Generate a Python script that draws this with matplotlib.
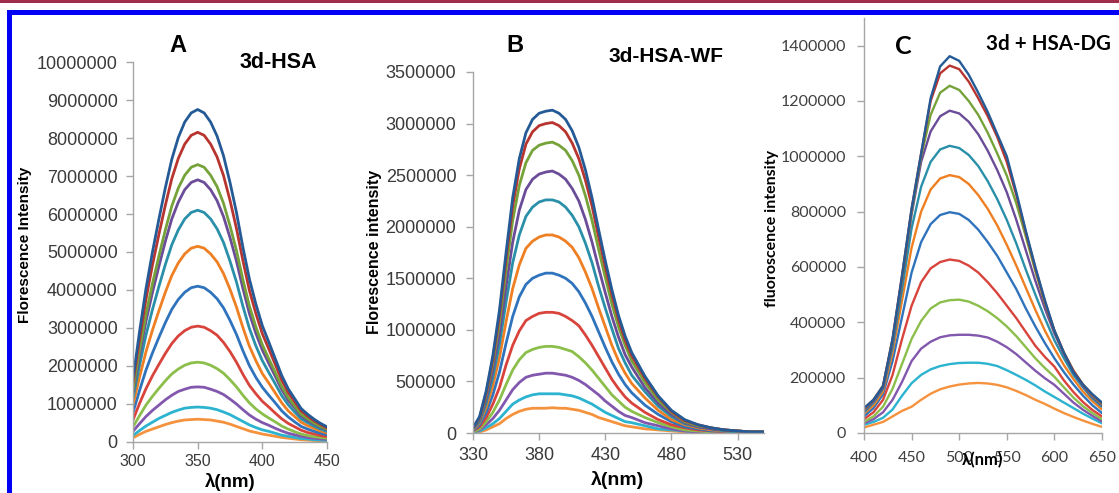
import matplotlib.pyplot as plt
import numpy as np

# emission spectra, one row per titration step (lowest first)
# panel A: 3d-HSA, intensity in units of 1e6
wl_a = [300, 305, 310, 315, 320, 325, 330, 335, 340, 345, 350, 355, 360, 365, 370, 375,
        380, 385, 390, 395, 400, 405, 410, 415, 420, 425, 430, 435, 440, 445, 450]
spec_a = [
    [0.11, 0.20, 0.28, 0.34, 0.40, 0.46, 0.51, 0.55, 0.58, 0.59, 0.60, 0.59, 0.58, 0.55, 0.52, 0.47,
     0.41, 0.35, 0.29, 0.25, 0.21, 0.18, 0.15, 0.12, 0.10, 0.08, 0.06, 0.05, 0.04, 0.03, 0.03],
    [0.17, 0.30, 0.42, 0.52, 0.62, 0.70, 0.78, 0.84, 0.89, 0.91, 0.92, 0.91, 0.89, 0.85, 0.79, 0.72,
     0.63, 0.54, 0.45, 0.38, 0.32, 0.28, 0.23, 0.18, 0.15, 0.12, 0.09, 0.08, 0.06, 0.05, 0.04],
    [0.28, 0.48, 0.67, 0.83, 0.97, 1.11, 1.23, 1.33, 1.39, 1.44, 1.45, 1.44, 1.39, 1.33, 1.25, 1.13,
     1.00, 0.85, 0.71, 0.60, 0.51, 0.44, 0.36, 0.29, 0.23, 0.19, 0.15, 0.12, 0.10, 0.08, 0.07],
    [0.40, 0.69, 0.97, 1.20, 1.41, 1.61, 1.79, 1.92, 2.02, 2.08, 2.10, 2.08, 2.02, 1.93, 1.81, 1.64,
     1.45, 1.23, 1.03, 0.87, 0.74, 0.63, 0.53, 0.42, 0.34, 0.27, 0.21, 0.17, 0.14, 0.12, 0.10],
    [0.58, 1.01, 1.40, 1.74, 2.04, 2.33, 2.59, 2.79, 2.93, 3.02, 3.05, 3.02, 2.93, 2.81, 2.62, 2.38,
     2.10, 1.78, 1.49, 1.27, 1.07, 0.92, 0.76, 0.61, 0.49, 0.40, 0.31, 0.25, 0.21, 0.17, 0.14],
    [0.78, 1.35, 1.89, 2.34, 2.75, 3.14, 3.49, 3.75, 3.94, 4.06, 4.10, 4.06, 3.94, 3.77, 3.53, 3.20,
     2.83, 2.40, 2.01, 1.70, 1.44, 1.23, 1.03, 0.82, 0.66, 0.53, 0.41, 0.34, 0.28, 0.23, 0.19],
    [0.98, 1.70, 2.37, 2.94, 3.45, 3.94, 4.38, 4.71, 4.95, 5.10, 5.15, 5.10, 4.95, 4.74, 4.43, 4.02,
     3.55, 3.01, 2.52, 2.14, 1.80, 1.55, 1.29, 1.03, 0.82, 0.67, 0.52, 0.43, 0.36, 0.29, 0.24],
    [1.16, 2.01, 2.81, 3.48, 4.09, 4.67, 5.19, 5.58, 5.87, 6.04, 6.10, 6.04, 5.87, 5.61, 5.25, 4.76,
     4.21, 3.57, 2.99, 2.53, 2.14, 1.83, 1.53, 1.22, 0.98, 0.79, 0.61, 0.51, 0.42, 0.34, 0.28],
    [1.31, 2.28, 3.17, 3.93, 4.62, 5.28, 5.87, 6.31, 6.64, 6.83, 6.90, 6.83, 6.64, 6.35, 5.93, 5.38,
     4.76, 4.04, 3.38, 2.86, 2.42, 2.07, 1.73, 1.38, 1.10, 0.90, 0.69, 0.57, 0.48, 0.39, 0.32],
    [1.39, 2.41, 3.36, 4.16, 4.89, 5.58, 6.21, 6.68, 7.02, 7.23, 7.30, 7.23, 7.02, 6.72, 6.28, 5.69,
     5.04, 4.27, 3.58, 3.03, 2.56, 2.19, 1.83, 1.46, 1.17, 0.95, 0.73, 0.61, 0.50, 0.41, 0.34],
    [1.55, 2.69, 3.75, 4.65, 5.46, 6.23, 6.93, 7.46, 7.84, 8.07, 8.15, 8.07, 7.84, 7.50, 7.01, 6.36,
     5.62, 4.77, 3.99, 3.38, 2.85, 2.45, 2.04, 1.63, 1.30, 1.06, 0.82, 0.68, 0.56, 0.46, 0.37],
    [1.66, 2.89, 4.03, 4.99, 5.86, 6.69, 7.44, 8.01, 8.42, 8.66, 8.75, 8.66, 8.42, 8.05, 7.53, 6.83,
     6.04, 5.12, 4.29, 3.63, 3.06, 2.63, 2.19, 1.75, 1.40, 1.14, 0.88, 0.73, 0.60, 0.49, 0.40],
]

# panel B: 3d-HSA-WF, intensity in units of 1e6
wl_b = [330, 335, 340, 345, 350, 355, 360, 365, 370, 375, 380, 385, 390, 395, 400, 405, 410, 415,
        420, 425, 430, 435, 440, 445, 450, 460, 470, 480, 490, 500, 510, 520, 530, 540, 550]
spec_b = [
    [0.00, 0.01, 0.03, 0.06, 0.09, 0.14, 0.18, 0.21, 0.23, 0.24, 0.24, 0.24, 0.245, 0.24, 0.24, 0.23, 0.22, 0.20,
     0.18, 0.15, 0.13, 0.11, 0.09, 0.07, 0.06, 0.04, 0.03, 0.02, 0.01, 0.01, 0.00, 0.00, 0.00, 0.00, 0.00],
    [0.01, 0.02, 0.05, 0.09, 0.14, 0.21, 0.28, 0.32, 0.35, 0.37, 0.38, 0.38, 0.38, 0.38, 0.37, 0.36, 0.34, 0.31,
     0.28, 0.24, 0.20, 0.17, 0.14, 0.11, 0.10, 0.07, 0.04, 0.03, 0.02, 0.01, 0.01, 0.00, 0.00, 0.00, 0.00],
    [0.01, 0.03, 0.08, 0.14, 0.22, 0.32, 0.42, 0.49, 0.54, 0.56, 0.57, 0.58, 0.58, 0.57, 0.56, 0.54, 0.51, 0.47,
     0.42, 0.37, 0.31, 0.26, 0.21, 0.17, 0.15, 0.10, 0.07, 0.04, 0.02, 0.01, 0.01, 0.01, 0.00, 0.00, 0.00],
    [0.01, 0.04, 0.11, 0.20, 0.32, 0.47, 0.61, 0.71, 0.78, 0.81, 0.83, 0.84, 0.84, 0.83, 0.81, 0.79, 0.74, 0.68,
     0.61, 0.53, 0.45, 0.37, 0.31, 0.25, 0.21, 0.15, 0.10, 0.06, 0.03, 0.02, 0.01, 0.01, 0.01, 0.00, 0.00],
    [0.02, 0.06, 0.15, 0.28, 0.44, 0.66, 0.85, 0.99, 1.09, 1.13, 1.16, 1.17, 1.17, 1.16, 1.13, 1.09, 1.04, 0.95,
     0.85, 0.74, 0.63, 0.52, 0.43, 0.35, 0.29, 0.20, 0.13, 0.08, 0.05, 0.03, 0.02, 0.01, 0.01, 0.00, 0.00],
    [0.02, 0.08, 0.20, 0.37, 0.59, 0.87, 1.13, 1.32, 1.44, 1.50, 1.53, 1.55, 1.55, 1.53, 1.50, 1.45, 1.37, 1.26,
     1.13, 0.98, 0.83, 0.69, 0.57, 0.47, 0.39, 0.27, 0.18, 0.11, 0.06, 0.04, 0.02, 0.02, 0.01, 0.01, 0.00],
    [0.03, 0.10, 0.25, 0.46, 0.73, 1.08, 1.40, 1.63, 1.79, 1.86, 1.90, 1.92, 1.92, 1.90, 1.86, 1.80, 1.70, 1.56,
     1.40, 1.21, 1.03, 0.85, 0.70, 0.58, 0.48, 0.34, 0.22, 0.13, 0.08, 0.05, 0.03, 0.02, 0.01, 0.01, 0.01],
    [0.04, 0.11, 0.29, 0.54, 0.86, 1.27, 1.65, 1.92, 2.10, 2.19, 2.24, 2.26, 2.26, 2.24, 2.19, 2.11, 2.00, 1.84,
     1.65, 1.42, 1.21, 1.01, 0.82, 0.68, 0.56, 0.40, 0.26, 0.16, 0.09, 0.06, 0.04, 0.02, 0.01, 0.01, 0.01],
    [0.04, 0.13, 0.33, 0.61, 0.97, 1.42, 1.85, 2.16, 2.36, 2.46, 2.51, 2.53, 2.54, 2.51, 2.46, 2.37, 2.25, 2.07,
     1.85, 1.60, 1.36, 1.13, 0.93, 0.76, 0.64, 0.44, 0.29, 0.18, 0.10, 0.06, 0.04, 0.03, 0.02, 0.01, 0.01],
    [0.05, 0.14, 0.37, 0.68, 1.07, 1.58, 2.06, 2.40, 2.62, 2.74, 2.79, 2.81, 2.82, 2.79, 2.74, 2.64, 2.50, 2.30,
     2.06, 1.78, 1.51, 1.25, 1.03, 0.85, 0.70, 0.49, 0.32, 0.20, 0.11, 0.07, 0.05, 0.03, 0.02, 0.01, 0.01],
    [0.05, 0.15, 0.39, 0.72, 1.14, 1.69, 2.20, 2.56, 2.80, 2.92, 2.98, 3.00, 3.01, 2.98, 2.92, 2.81, 2.66, 2.45,
     2.20, 1.90, 1.61, 1.34, 1.10, 0.90, 0.75, 0.53, 0.35, 0.21, 0.12, 0.08, 0.05, 0.03, 0.02, 0.01, 0.01],
    [0.05, 0.16, 0.41, 0.75, 1.19, 1.75, 2.28, 2.66, 2.91, 3.04, 3.10, 3.12, 3.13, 3.10, 3.04, 2.93, 2.77, 2.55,
     2.28, 1.97, 1.67, 1.39, 1.14, 0.94, 0.78, 0.55, 0.36, 0.22, 0.13, 0.08, 0.05, 0.03, 0.02, 0.01, 0.01],
]

# panel C: 3d + HSA-DG, intensity in units of 1e5
wl_c = [400, 410, 420, 430, 440, 450, 460, 470, 480, 490, 500, 510, 520,
        530, 540, 550, 560, 570, 580, 590, 600, 610, 620, 630, 640, 650]
spec_c = [
    [0.20, 0.30, 0.40, 0.60, 0.80, 0.95, 1.20, 1.42, 1.58, 1.68, 1.75, 1.79, 1.81, 1.79, 1.74, 1.65, 1.52, 1.37, 1.20, 1.05, 0.88, 0.72, 0.58, 0.45, 0.33, 0.22],
    [0.30, 0.40, 0.55, 0.85, 1.35, 1.80, 2.10, 2.30, 2.42, 2.49, 2.53, 2.54, 2.54, 2.50, 2.42, 2.27, 2.10, 1.92, 1.72, 1.50, 1.30, 1.10, 0.90, 0.70, 0.52, 0.35],
    [0.35, 0.50, 0.75, 1.20, 1.85, 2.60, 3.05, 3.30, 3.46, 3.53, 3.55, 3.55, 3.52, 3.45, 3.30, 3.10, 2.85, 2.55, 2.25, 1.98, 1.74, 1.42, 1.10, 0.84, 0.62, 0.42],
    [0.40, 0.60, 0.95, 1.60, 2.50, 3.40, 4.05, 4.50, 4.72, 4.80, 4.82, 4.75, 4.60, 4.40, 4.15, 3.85, 3.50, 3.10, 2.70, 2.35, 2.03, 1.65, 1.28, 0.97, 0.72, 0.50],
    [0.50, 0.75, 1.20, 2.10, 3.40, 4.60, 5.45, 5.95, 6.18, 6.27, 6.22, 6.05, 5.80, 5.45, 5.05, 4.60, 4.15, 3.65, 3.15, 2.75, 2.40, 1.90, 1.48, 1.12, 0.83, 0.60],
    [0.60, 0.90, 1.40, 2.60, 4.20, 5.80, 6.90, 7.55, 7.88, 7.98, 7.92, 7.70, 7.35, 6.90, 6.40, 5.80, 5.20, 4.50, 3.85, 3.25, 2.70, 2.20, 1.75, 1.35, 1.00, 0.72],
    [0.70, 1.00, 1.50, 2.90, 4.80, 6.70, 8.00, 8.80, 9.20, 9.32, 9.25, 9.00, 8.60, 8.10, 7.50, 6.80, 6.05, 5.25, 4.45, 3.70, 3.05, 2.45, 1.95, 1.50, 1.15, 0.85],
    [0.75, 1.10, 1.60, 3.10, 5.20, 7.40, 8.90, 9.80, 10.25, 10.38, 10.30, 10.05, 9.65, 9.10, 8.45, 7.70, 6.85, 5.90, 5.00, 4.15, 3.35, 2.70, 2.10, 1.65, 1.25, 0.95],
    [0.80, 1.15, 1.65, 3.25, 5.50, 7.90, 9.80, 10.90, 11.45, 11.65, 11.55, 11.25, 10.80, 10.20, 9.50, 8.70, 7.70, 6.60, 5.50, 4.50, 3.60, 2.85, 2.20, 1.70, 1.30, 1.00],
    [0.85, 1.20, 1.70, 3.35, 5.60, 8.00, 10.00, 11.50, 12.30, 12.55, 12.40, 12.00, 11.50, 10.85, 10.10, 9.30, 8.30, 7.10, 5.85, 4.70, 3.70, 2.90, 2.25, 1.75, 1.35, 1.05],
    [0.88, 1.20, 1.70, 3.40, 5.70, 8.10, 10.10, 12.00, 13.00, 13.28, 13.15, 12.70, 12.10, 11.45, 10.70, 9.80, 8.60, 7.25, 5.95, 4.75, 3.70, 2.90, 2.25, 1.75, 1.38, 1.08],
    [0.90, 1.20, 1.70, 3.40, 5.70, 8.10, 10.10, 12.10, 13.25, 13.62, 13.45, 12.95, 12.30, 11.60, 10.80, 10.00, 8.70, 7.30, 6.00, 4.80, 3.70, 2.90, 2.20, 1.75, 1.40, 1.10],
]

# line colours, lowest spectrum first
colors = ['#F5923E', '#2BB3CF', '#8257AE', '#8BBE4A', '#D8443C', '#2F73BD',
          '#EE7F22', '#2A8FA8', '#6B4C98', '#76A23A', '#B8352F', '#245A96']

ticks_a = [0, 1000000, 2000000, 3000000, 4000000, 5000000,
           6000000, 7000000, 8000000, 9000000, 10000000]
ticks_b = [0, 500000, 1000000, 1500000, 2000000, 2500000, 3000000, 3500000]
ticks_c = [0, 200000, 400000, 600000, 800000, 1000000, 1200000, 1400000]

W, H = 1119, 493
fig = plt.figure(figsize=(W / 100, H / 100), dpi=100)


def box(l, t, r, b):
    return [l / W, 1 - b / H, (r - l) / W, (b - t) / H]


def style(ax, font, tcol, xsize, ysize, xpad, ypad):
    for s in ['top', 'right']:
        ax.spines[s].set_visible(False)
    for s in ['left', 'bottom']:
        ax.spines[s].set_color('#A6A6A6')
        ax.spines[s].set_linewidth(1.0)
    ax.tick_params(axis='both', direction='out', length=5, width=1.0,
                   color='#A6A6A6', labelcolor=tcol)
    ax.tick_params(axis='x', labelsize=xsize, pad=xpad)
    ax.tick_params(axis='y', labelsize=ysize, pad=ypad)
    for lab in ax.get_xticklabels() + ax.get_yticklabels():
        lab.set_fontfamily(font)


def place_label(ax, label, px, py):
    # put an axis label centred on a pixel position of the figure
    fx, fy = px / W, 1 - py / H
    x, y = ax.transAxes.inverted().transform(fig.transFigure.transform((fx, fy)))
    label.set_position((x, y))
    label.set_transform(ax.transAxes)
    label.set_verticalalignment('center')
    label.set_horizontalalignment('center')


# ---- A
axA = fig.add_axes(box(133, 62, 327, 442))
x = np.array(wl_a)
for row, c in zip(spec_a, colors):
    axA.plot(x, np.array(row) * 1e6, color=c, lw=2.0, solid_capstyle='round')
axA.set_xlim(300, 450)
axA.set_ylim(0, 10000000)
axA.set_xticks([300, 350, 400, 450])
axA.set_yticks(ticks_a)
axA.set_yticklabels([str(t) for t in ticks_a])
style(axA, 'Liberation Sans', '#3A3A3A', 11.5, 13, 4, 6)
axA.set_xlabel('λ(nm)', fontsize=13.5, fontweight='bold', family='Liberation Sans')
axA.set_ylabel('Florescence Intensity', fontsize=11, fontweight='bold', family='Liberation Sans')
axA.xaxis.set_label_coords(0.5, 0)
axA.yaxis.set_label_coords(0, 0.5)
place_label(axA, axA.xaxis.label, 230, 482)
place_label(axA, axA.yaxis.label, 25, 245)

# ---- B
axB = fig.add_axes(box(473, 72, 764, 433))
x = np.array(wl_b)
for row, c in zip(spec_b, colors):
    axB.plot(x, np.array(row) * 1e6, color=c, lw=2.0, solid_capstyle='round')
axB.set_xlim(330, 550)
axB.set_ylim(0, 3500000)
axB.set_xticks([330, 380, 430, 480, 530])
axB.set_yticks(ticks_b)
axB.set_yticklabels([str(t) for t in ticks_b])
style(axB, 'Liberation Sans', '#3A3A3A', 13, 13, 5, 7)
axB.set_xlabel('λ(nm)', fontsize=14, fontweight='bold', family='Liberation Sans')
axB.set_ylabel('Florescence intensity', fontsize=11.5, fontweight='bold', family='Liberation Sans')
axB.xaxis.set_label_coords(0.5, 0)
axB.yaxis.set_label_coords(0, 0.5)
place_label(axB, axB.xaxis.label, 618, 480)
place_label(axB, axB.yaxis.label, 375, 252)

# ---- C
axC = fig.add_axes(box(864, 18, 1102, 433))
x = np.array(wl_c)
for row, c in zip(spec_c, colors):
    axC.plot(x, np.array(row) * 1e5, color=c, lw=1.7, solid_capstyle='round')
axC.set_xlim(400, 650)
axC.set_ylim(0, 1500000)
axC.set_xticks([400, 450, 500, 550, 600, 650])
axC.set_yticks(ticks_c)
axC.set_yticklabels([str(t) for t in ticks_c])
style(axC, 'Lato', '#404040', 11.5, 11.5, 8, 8)
axC.set_xlabel('λ(nm)', fontsize=12, fontweight='bold', family='Lato')
axC.set_ylabel('fluoroscence intensity', fontsize=11.5, fontweight='bold', family='Lato')
axC.xaxis.set_label_coords(0.5, 0)
axC.yaxis.set_label_coords(0, 0.5)
place_label(axC, axC.xaxis.label, 983, 460)
place_label(axC, axC.yaxis.label, 772, 228)

# panel letters and titles
fig.text(178 / W, 1 - 45 / H, 'A', fontsize=17, fontweight='bold', family='Liberation Sans',
         ha='center', va='center')
fig.text(278 / W, 1 - 63 / H, '3d-HSA', fontsize=15.5, fontweight='bold', family='Liberation Sans',
         ha='center', va='center')
fig.text(515 / W, 1 - 46 / H, 'B', fontsize=17, fontweight='bold', family='Liberation Sans',
         ha='center', va='center')
fig.text(666 / W, 1 - 56 / H, '3d-HSA-WF', fontsize=15, fontweight='bold', family='Liberation Sans',
         ha='center', va='center')
fig.text(903 / W, 1 - 47 / H, 'C', fontsize=18, fontweight='bold', family='Lato',
         ha='center', va='center')
fig.text(986 / W, 1 - 44 / H, '3d + HSA-DG', fontsize=14.8, fontweight='bold', family='Lato',
         ha='left', va='center')

# page rules: red line at the top, blue frame
fig.add_artist(plt.Rectangle((0, 1 - 2.5 / H), 1, 2.5 / H, transform=fig.transFigure,
                             color='#A02E4A', lw=0))
fig.add_artist(plt.Rectangle((7 / W, 1 - 15 / H), 1, 5 / H, transform=fig.transFigure,
                             color='#0000F5', lw=0))
fig.add_artist(plt.Rectangle((7 / W, 0), 5 / W, 1 - 10 / H, transform=fig.transFigure,
                             color='#0000F5', lw=0))

fig.savefig('out.png', dpi=100)
